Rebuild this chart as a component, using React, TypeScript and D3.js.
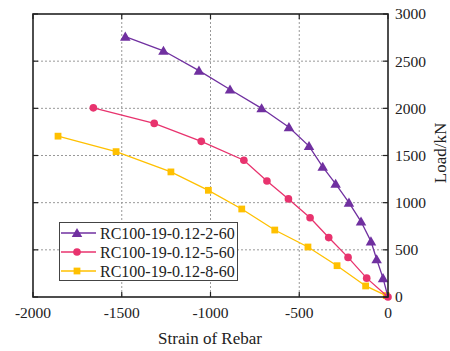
import React, { useEffect, useRef } from 'react';
import * as d3 from 'd3';

// strain values (micro-strain) and loads (kN)
const strain2 = [-1480, -1265, -1065, -890, -712, -558, -445, -368, -295, -220, -152, -96, -64, -28, 0];
const load2 = [2760, 2610, 2400, 2200, 2000, 1800, 1600, 1380, 1200, 1000, 800, 590, 400, 200, 0];

const strain5 = [-1660, -1317, -1052, -812, -682, -561, -439, -334, -225, -120, 0];
const load5 = [2005, 1840, 1650, 1450, 1230, 1040, 840, 630, 420, 200, 0];

const strain8 = [-1859, -1532, -1223, -1012, -824, -638, -451, -287, -126, -10];
const load8 = [1705, 1541, 1326, 1131, 933, 710, 530, 332, 117, 15];

const seriesNames = ['RC100-19-0.12-2-60', 'RC100-19-0.12-5-60', 'RC100-19-0.12-8-60'];
const seriesColors = ['#7030A0', '#E8336E', '#FFC000'];
const seriesMarkers = ['triangle', 'circle', 'square'];

const xTicks = [-2000, -1500, -1000, -500, 0];
const yTicks = [0, 500, 1000, 1500, 2000, 2500, 3000];

const W = 450;
const H = 351;
const font = '"Liberation Serif", "Times New Roman", serif';

const App = () => {
  const svgRef = useRef(null);

  useEffect(() => {
    const svg = d3.select(svgRef.current);
    svg.selectAll('*').remove();

    const left = 33, right = 388, top = 14, bottom = 297;

    const x = d3.scaleLinear().domain([-2000, 0]).range([left, right]);
    const y = d3.scaleLinear().domain([0, 3000]).range([bottom, top]);

    // dotted grid
    const grid = svg.append('g');
    grid.selectAll('.gx')
      .data(xTicks.slice(1, -1))
      .enter()
      .append('line')
      .attr('x1', d => x(d)).attr('x2', d => x(d))
      .attr('y1', top).attr('y2', bottom)
      .attr('stroke', '#999').attr('stroke-width', 1).attr('stroke-dasharray', '2,2');
    grid.selectAll('.gy')
      .data(yTicks.slice(1, -1))
      .enter()
      .append('line')
      .attr('x1', left).attr('x2', right)
      .attr('y1', d => y(d)).attr('y2', d => y(d))
      .attr('stroke', '#999').attr('stroke-width', 1).attr('stroke-dasharray', '2,2');

    const series = [
      { xs: strain2, ys: load2 },
      { xs: strain5, ys: load5 },
      { xs: strain8, ys: load8 },
    ];

    const line = d3.line<[number, number]>()
      .x(d => x(d[0]))
      .y(d => y(d[1]));

    const symbolFor = (m: string) =>
      m === 'triangle' ? d3.symbol().type(d3.symbolTriangle).size(48)
        : m === 'circle' ? d3.symbol().type(d3.symbolCircle).size(46)
          : d3.symbol().type(d3.symbolSquare).size(46);

    // draw last series first so the purple one sits on top
    [2, 1, 0].forEach(i => {
      const s = series[i];
      const pts: [number, number][] = s.xs.map((v, k) => [v, s.ys[k]]);
      svg.append('path')
        .datum(pts)
        .attr('fill', 'none')
        .attr('stroke', seriesColors[i])
        .attr('stroke-width', 1.3)
        .attr('d', line);
      const sym = symbolFor(seriesMarkers[i]);
      const markPts = seriesMarkers[i] === 'triangle' ? pts.slice(0, -1) : pts;
      svg.selectAll('.m' + i)
        .data(markPts)
        .enter()
        .append('path')
        .attr('transform', d => `translate(${x(d[0])},${y(d[1]) + (seriesMarkers[i] === 'triangle' ? 1 : 0)})`)
        .attr('d', sym)
        .attr('fill', seriesColors[i]);
    });

    // frame
    svg.append('rect')
      .attr('x', left).attr('y', top)
      .attr('width', right - left).attr('height', bottom - top)
      .attr('fill', 'none').attr('stroke', '#222').attr('stroke-width', 1.6);

    // inward ticks on all four sides
    const tk = svg.append('g').attr('stroke', '#222').attr('stroke-width', 1.2);
    xTicks.forEach(t => {
      tk.append('line').attr('x1', x(t)).attr('x2', x(t)).attr('y1', bottom).attr('y2', bottom - 5);
      tk.append('line').attr('x1', x(t)).attr('x2', x(t)).attr('y1', top).attr('y2', top + 5);
    });
    yTicks.forEach(t => {
      tk.append('line').attr('x1', left).attr('x2', left + 5).attr('y1', y(t)).attr('y2', y(t));
      tk.append('line').attr('x1', right).attr('x2', right - 5).attr('y1', y(t)).attr('y2', y(t));
    });

    // tick labels
    svg.selectAll('.xl')
      .data(xTicks)
      .enter()
      .append('text')
      .attr('x', d => x(d))
      .attr('y', 313)
      .attr('dy', '0.35em')
      .attr('text-anchor', 'middle')
      .attr('font-family', font)
      .attr('font-size', 15.5)
      .attr('fill', '#222')
      .text(d => String(d));

    svg.selectAll('.yl')
      .data(yTicks)
      .enter()
      .append('text')
      .attr('x', right + 7)
      .attr('y', d => y(d))
      .attr('dy', '0.35em')
      .attr('font-family', font)
      .attr('font-size', 15.5)
      .attr('fill', '#222')
      .text(d => String(d));

    // axis titles
    svg.append('text')
      .attr('x', 210)
      .attr('y', 338)
      .attr('dy', '0.35em')
      .attr('text-anchor', 'middle')
      .attr('font-family', font)
      .attr('font-size', 17)
      .attr('fill', '#222')
      .text('Strain of Rebar');

    svg.append('text')
      .attr('transform', 'translate(440,153) rotate(-90)')
      .attr('dy', '0.35em')
      .attr('text-anchor', 'middle')
      .attr('font-family', font)
      .attr('font-size', 17)
      .attr('fill', '#222')
      .text('Load/kN');

    // legend
    const lg = svg.append('g');
    lg.append('rect')
      .attr('x', 59.5).attr('y', 222.5)
      .attr('width', 178).attr('height', 58)
      .attr('fill', 'white').attr('stroke', '#444').attr('stroke-width', 1);
    const rowsY = [233, 252, 271];
    seriesNames.forEach((name, i) => {
      const ry = rowsY[i];
      lg.append('line')
        .attr('x1', 61).attr('x2', 96)
        .attr('y1', ry).attr('y2', ry)
        .attr('stroke', seriesColors[i]).attr('stroke-width', 1.5);
      lg.append('path')
        .attr('transform', `translate(77,${ry + (seriesMarkers[i] === 'triangle' ? 1 : 0)})`)
        .attr('d', symbolFor(seriesMarkers[i]))
        .attr('fill', seriesColors[i]);
      lg.append('text')
        .attr('x', 100)
        .attr('y', ry)
        .attr('dy', '0.35em')
        .attr('font-family', font)
        .attr('font-size', 16)
        .attr('fill', '#222')
        .text(name);
    });
  }, []);

  return (
    <svg
      ref={svgRef}
      width={W}
      height={H}
      style={{ position: 'absolute', left: 0, top: 0, background: 'white' }}
    />
  );
};

export default App;
